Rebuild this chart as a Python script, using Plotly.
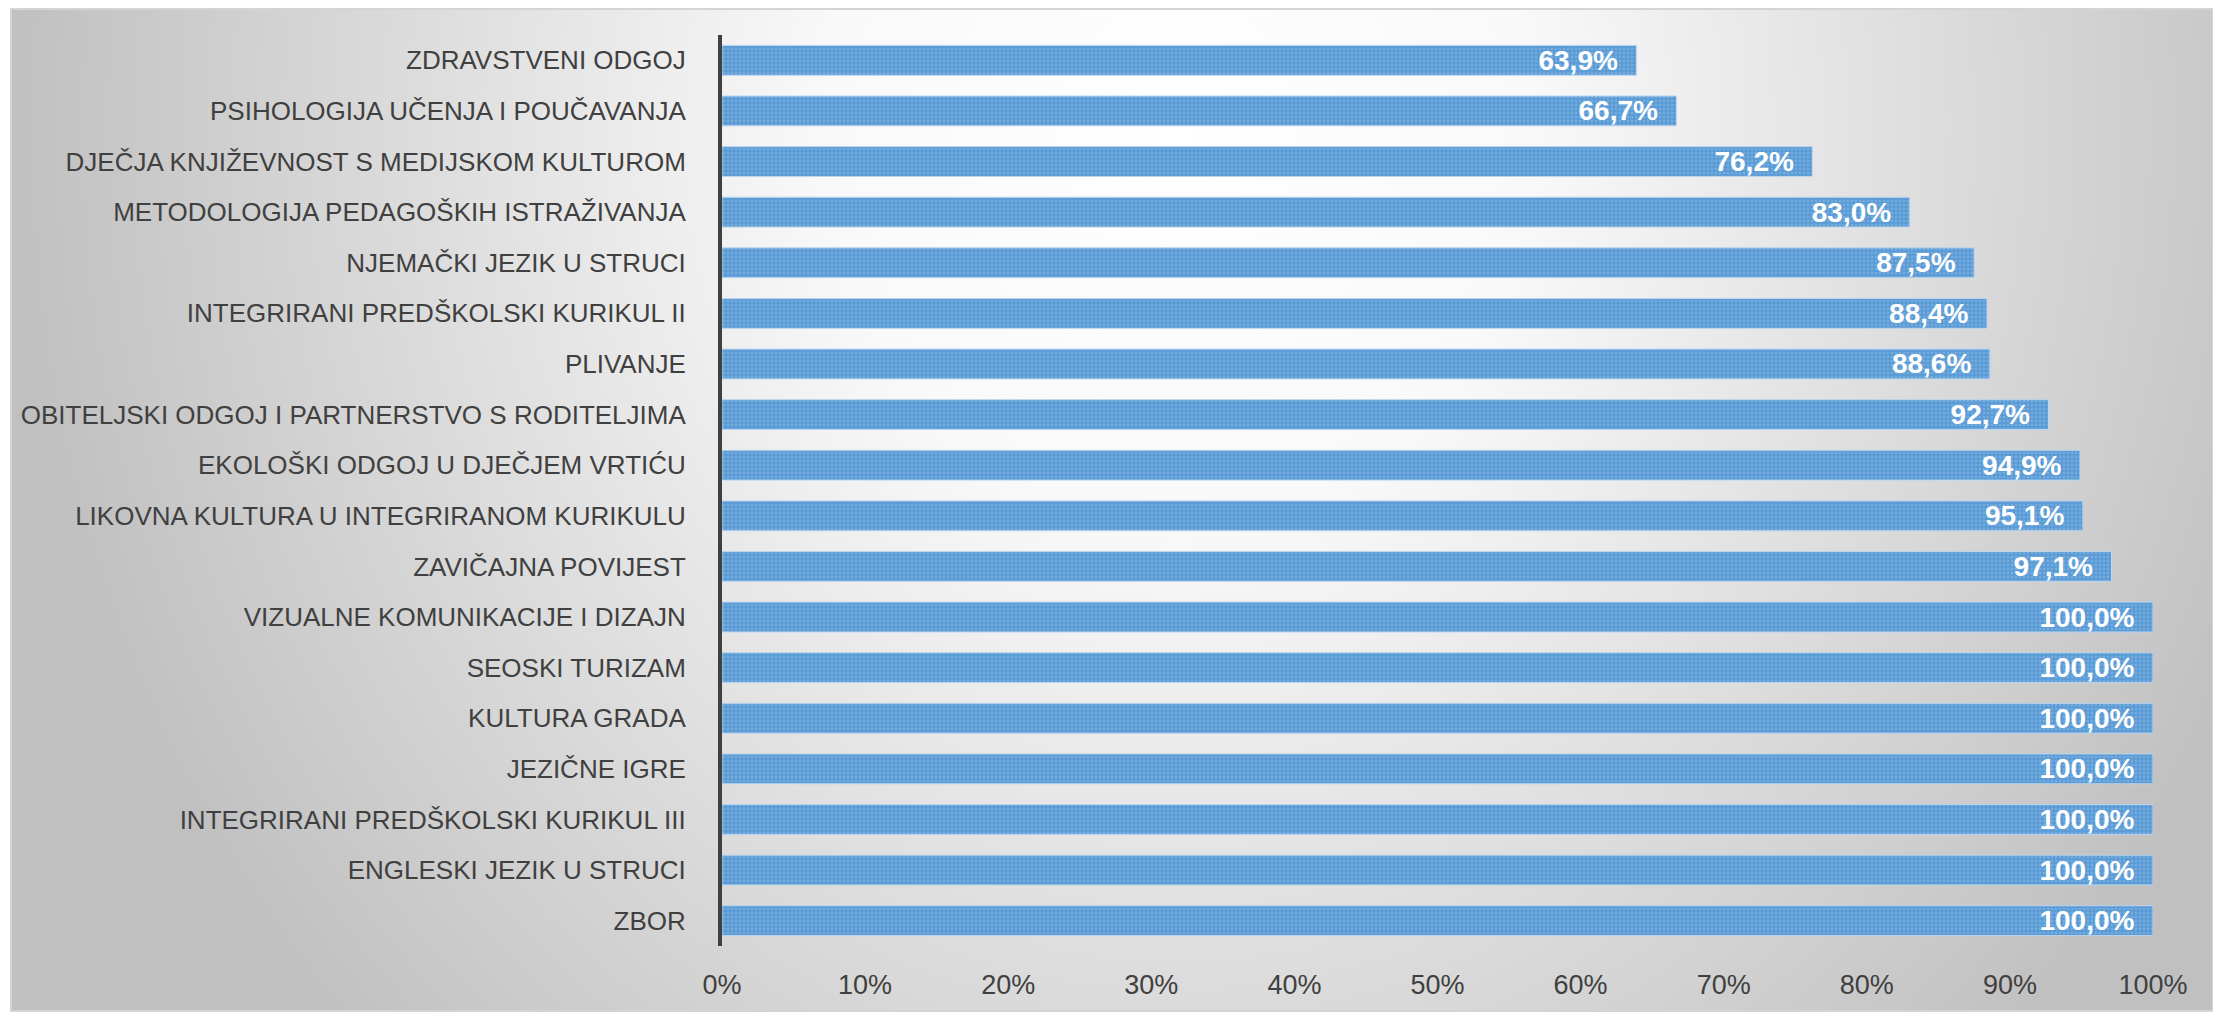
import base64
import plotly.graph_objects as go

# ---- data (top to bottom) ----
categories = [
    "ZDRAVSTVENI ODGOJ",
    "PSIHOLOGIJA UČENJA I POUČAVANJA",
    "DJEČJA KNJIŽEVNOST S MEDIJSKOM KULTUROM",
    "METODOLOGIJA PEDAGOŠKIH ISTRAŽIVANJA",
    "NJEMAČKI JEZIK U STRUCI",
    "INTEGRIRANI PREDŠKOLSKI KURIKUL II",
    "PLIVANJE",
    "OBITELJSKI ODGOJ I PARTNERSTVO S RODITELJIMA",
    "EKOLOŠKI ODGOJ U DJEČJEM VRTIĆU",
    "LIKOVNA KULTURA U INTEGRIRANOM KURIKULU",
    "ZAVIČAJNA POVIJEST",
    "VIZUALNE KOMUNIKACIJE I DIZAJN",
    "SEOSKI TURIZAM",
    "KULTURA GRADA",
    "JEZIČNE IGRE",
    "INTEGRIRANI PREDŠKOLSKI KURIKUL III",
    "ENGLESKI JEZIK U STRUCI",
    "ZBOR",
]
values = [0.639, 0.667, 0.762, 0.830, 0.875, 0.884, 0.886, 0.927, 0.949,
          0.951, 0.971, 1.0, 1.0, 1.0, 1.0, 1.0, 1.0, 1.0]
x_ticks = [0, 0.1, 0.2, 0.3, 0.4, 0.5, 0.6, 0.7, 0.8, 0.9, 1.0]

# ---- layout geometry (figure pixels; page body adds an 8px offset) ----
W, H = 2213, 1007
ML, MT = 714, 27
PW, PH = 1431, 911
MR, MB = W - ML - PW, H - MT - PH
FX0, FX1, FY0, FY1 = 2, 2206, 0, 1004  # chart frame

FONT = "Liberation Sans, Arial, sans-serif"
TXT = "#404040"

# background gradient frame as SVG
fw, fh = FX1 - FX0, FY1 - FY0
svg = f'''<svg xmlns="http://www.w3.org/2000/svg" width="{fw}" height="{fh}" viewBox="0 0 {fw} {fh}" preserveAspectRatio="none">
<defs><radialGradient id="g" gradientUnits="userSpaceOnUse" cx="0" cy="0" r="1"
 gradientTransform="translate({0.53*fw:.1f} {0.12*fh:.1f}) scale({0.53*fw:.1f} {1.3*fh:.1f})">
<stop offset="0" stop-color="#ffffff"/>
<stop offset="0.3" stop-color="#f9f9f9"/>
<stop offset="1" stop-color="#c0c0c0"/>
</radialGradient></defs>
<rect x="1" y="1" width="{fw-2}" height="{fh-2}" fill="url(#g)" stroke="#d4d4d4" stroke-width="2"/>
</svg>'''
src = "data:image/svg+xml;base64," + base64.b64encode(svg.encode()).decode()

fig = go.Figure(go.Bar(
    x=values,
    y=categories,
    orientation="h",
    marker=dict(
        color="#5b9bd5",
        line=dict(color="#bcd6ee", width=1),
        pattern=dict(shape=".", fgcolor="#8fbde8", size=4, solidity=0.3),
    ),
    texttemplate="%{x:.1%}\u00a0\u00a0",
    textposition="inside",
    insidetextanchor="end",
    textangle=0,
    constraintext="none",
    insidetextfont=dict(family=FONT, size=28, color="white", weight="bold"),
    cliponaxis=False,
    hoverinfo="skip",
))

fig.update_layout(
    width=W, height=H,
    margin=dict(l=ML, r=MR, t=MT, b=MB, autoexpand=False),
    paper_bgcolor="white",
    plot_bgcolor="rgba(0,0,0,0)",
    separators=",.",
    bargap=0.41,
    showlegend=False,
    font=dict(family=FONT, color=TXT),
    images=[dict(
        source=src, xref="paper", yref="paper",
        x=(FX0 - ML) / PW, y=1 + (MT - FY0) / PH,
        sizex=fw / PW, sizey=fh / PH,
        xanchor="left", yanchor="top", sizing="stretch", layer="below",
    )],
    xaxis=dict(
        range=[0, 1], tickvals=x_ticks, tickformat=".0%",
        showgrid=False, zeroline=False, showline=False, ticks="",
        tickfont=dict(family=FONT, size=27, color=TXT),
        ticklabelstandoff=20, automargin=False, fixedrange=True,
    ),
    yaxis=dict(
        autorange="reversed", showgrid=False, zeroline=False,
        showline=True, linecolor="#404040", linewidth=4, ticks="",
        tickfont=dict(family=FONT, size=26, color=TXT),
        ticklabelstandoff=27, automargin=False, fixedrange=True,
    ),
)

fig.write_html("out.html")
